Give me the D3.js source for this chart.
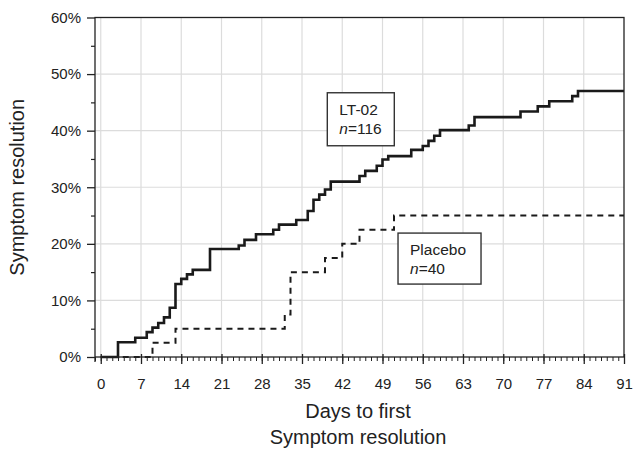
<!DOCTYPE html>
<html>
<head>
<meta charset="utf-8">
<script src="https://cdn.jsdelivr.net/npm/d3@7/dist/d3.min.js"></script>
<style>
  html, body { margin: 0; padding: 0; background: #fff; }
  svg { display: block; font-family: "Liberation Sans", Arial, Helvetica, sans-serif; }
</style>
</head>
<body>
<svg id="chart" width="633" height="450"></svg>
<script>
// ---- data (days, cumulative % with symptom resolution) ----
const ltDays = [0, 3, 6, 8, 9, 10, 11, 12, 13, 14, 15, 16, 19, 24, 25, 27, 30, 31, 34, 36, 37, 38, 39, 40,
                45, 46, 48, 49, 50, 54, 56, 57, 58, 59, 64, 65, 73, 76, 78, 82, 83, 91];
const ltValues = [0, 2.6, 3.4, 4.4, 5.2, 6.0, 7.0, 8.7, 12.9, 13.8, 14.6, 15.4, 19.1, 19.7, 20.7, 21.7, 22.5, 23.4, 24.2, 25.8, 27.8, 28.7, 29.6, 31.0,
                  32.0, 32.9, 33.8, 34.9, 35.5, 36.6, 37.3, 38.2, 39.1, 40.1, 40.9, 42.4, 43.4, 44.3, 45.2, 46.1, 47.0, 47.0];
const placeboDays = [0, 9, 13, 32, 33, 39, 42, 45, 51, 91];
const placeboValues = [0, 2.5, 5, 7.5, 15, 17.5, 20, 22.5, 25, 25];

const xTicks = [0, 7, 14, 21, 28, 35, 42, 49, 56, 63, 70, 77, 84, 91];
const yTicks = [0, 10, 20, 30, 40, 50, 60];
const yMinorTicks = [5, 15, 25, 35, 45, 55];

const labels = [
  { lines: ["LT-02", "n=116"], day: 39.4, value: 46.7, w: 67, h: 53 },
  { lines: ["Placebo", "n=40"], day: 51.7, value: 21.9, w: 83, h: 51 }
];

// ---- layout ----
const svg = d3.select("#chart");
const x = d3.scaleLinear().domain([-1, 91]).range([95, 624]);
const y = d3.scaleLinear().domain([0, 60]).range([357, 17.5]);
const ink = "#222";

// gridlines
const grid = svg.append("g");
grid.selectAll("line.v").data(xTicks.filter(d => d < 91)).join("line")
  .attr("x1", d => x(d)).attr("x2", d => x(d))
  .attr("y1", y(0)).attr("y2", y(60))
  .attr("stroke", "#dcdcdc").attr("stroke-width", 1.2);
grid.selectAll("line.h").data(yTicks.filter(d => d > 0 && d < 60)).join("line")
  .attr("x1", x(-1)).attr("x2", x(91))
  .attr("y1", d => y(d)).attr("y2", d => y(d))
  .attr("stroke", "#dcdcdc").attr("stroke-width", 1.2);

// lines
const lineGen = d3.line().curve(d3.curveStepAfter);
const ltPts = ltDays.map((d, i) => [x(d), y(ltValues[i])]);
const plPts = placeboDays.map((d, i) => [x(d), y(placeboValues[i])]);

svg.append("path").attr("d", lineGen(plPts))
  .attr("fill", "none").attr("stroke", "#1a1a1a").attr("stroke-width", 2)
  .attr("stroke-dasharray", "6,5");
svg.append("path").attr("d", lineGen(ltPts))
  .attr("fill", "none").attr("stroke", "#1a1a1a").attr("stroke-width", 2.6)
  .attr("stroke-linejoin", "miter");

// Frame
svg.append("rect").attr("x", x(-1)).attr("y", y(60))
  .attr("width", x(91) - x(-1)).attr("height", y(0) - y(60))
  .attr("fill", "none").attr("stroke", ink).attr("stroke-width", 1.3);

// y axis
const yAxis = d3.axisLeft(y).tickValues(yTicks).tickSize(8).tickPadding(6)
  .tickFormat(d => d + "%");
const gy = svg.append("g").attr("transform", `translate(${x(-1)},0)`).call(yAxis);
gy.select(".domain").remove();
gy.selectAll("line").attr("stroke", ink).attr("stroke-width", 1.3);
gy.selectAll("text").attr("font-size", 15).attr("fill", ink)
  .attr("font-family", "'Liberation Sans', Arial, sans-serif");
const yMinor = d3.axisLeft(y).tickValues(yMinorTicks).tickSize(4).tickFormat("");
const gym = svg.append("g").attr("transform", `translate(${x(-1)},0)`).call(yMinor);
gym.select(".domain").remove();
gym.selectAll("line").attr("stroke", ink).attr("stroke-width", 1.2);

// x axis minor ticks (each day)
const xMinor = d3.axisBottom(x).tickValues(d3.range(-1, 92)).tickSize(4).tickFormat("");
const gxm = svg.append("g").attr("transform", `translate(0,${y(0)})`).call(xMinor);
gxm.select(".domain").remove();
gxm.selectAll("line").attr("stroke", ink).attr("stroke-width", 1);

// x axis major
const xAxis = d3.axisBottom(x).tickValues(xTicks).tickSize(7).tickPadding(14);
const gx = svg.append("g").attr("transform", `translate(0,${y(0)})`).call(xAxis);
gx.select(".domain").remove();
gx.selectAll(".tick line").attr("stroke", ink).attr("stroke-width", 1.3).attr("y1", -3);
gx.selectAll("text").attr("font-size", 15).attr("fill", ink)
  .attr("font-family", "'Liberation Sans', Arial, sans-serif");
// tick at left edge crossing
svg.append("line").attr("x1", x(-1)).attr("x2", x(-1)).attr("y1", y(0)).attr("y2", y(0) + 5)
  .attr("stroke", ink).attr("stroke-width", 1.3);

// axis titles
svg.append("text").attr("transform", `translate(24,${(y(0) + y(60)) / 2}) rotate(-90)`)
  .attr("text-anchor", "middle").attr("font-size", 20).attr("fill", ink)
  .text("Symptom resolution");
svg.append("text").attr("x", 358).attr("y", 418).attr("text-anchor", "middle")
  .attr("font-size", 20).attr("fill", ink).text("Days to first");
svg.append("text").attr("x", 358).attr("y", 444).attr("text-anchor", "middle")
  .attr("font-size", 20).attr("fill", ink).text("Symptom resolution");

// label boxes
labels.forEach(l => {
  const bx = x(l.day), by = y(l.value);
  const g = svg.append("g");
  g.append("rect").attr("x", bx).attr("y", by).attr("width", l.w).attr("height", l.h)
    .attr("fill", "#fff").attr("stroke", "#333").attr("stroke-width", 1.4);
  const t1 = g.append("text").attr("x", bx + 12).attr("y", by + 22)
    .attr("font-size", 15.5).attr("fill", ink).text(l.lines[0]);
  const parts = l.lines[1].split("=");
  const t2 = g.append("text").attr("x", bx + 12).attr("y", by + 41)
    .attr("font-size", 15.5).attr("fill", ink);
  t2.append("tspan").attr("font-style", "italic").text(parts[0]);
  t2.append("tspan").text("=" + parts[1]);
});
</script>
</body>
</html>
